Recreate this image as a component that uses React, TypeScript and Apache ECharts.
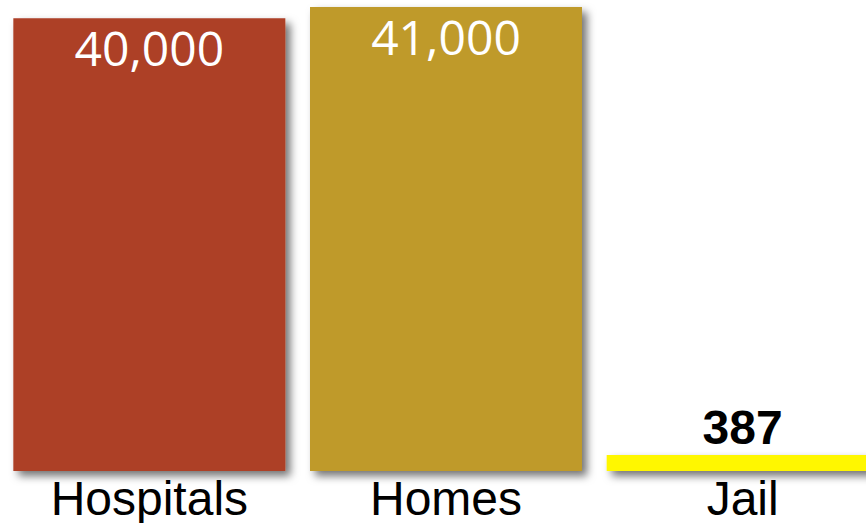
import React, { useEffect, useRef } from "react";
import * as echarts from "echarts";

const categories = ["Hospitals", "Homes", "Jail"];
const values = [40000, 41000, 387];
const barColors = ["#AD3F26", "#BF9A2A", "#FFF700"];
const valueLabels = ["40,000", "41,000", "387"];

export default function App() {
  const ref = useRef<HTMLDivElement>(null);
  useEffect(() => {
    if (!ref.current) return;
    const chart = echarts.init(ref.current, undefined, { renderer: "svg" });
    const data = values.map((v, i) => {
      const isSmall = i === 2;
      return {
        value: v,
        itemStyle: {
          color: barColors[i],
          shadowColor: "rgba(0,0,0,0.55)",
          shadowBlur: 8,
          shadowOffsetX: 5,
          shadowOffsetY: 5,
        },
        label: isSmall
          ? {
              show: true,
              position: "top",
              distance: 4,
              formatter: valueLabels[i],
              color: "#000",
              fontSize: 48,
              fontWeight: "bold",
              fontFamily: "Liberation Sans, Arial, sans-serif",
            }
          : {
              show: true,
              position: "insideTop",
              distance: 5,
              formatter: valueLabels[i],
              color: "#fff",
              fontSize: 48,
              fontFamily: "Open Sans, sans-serif",
            },
      };
    });
    chart.setOption({
      animation: false,
      grid: { left: 1, width: 890, top: 7, bottom: 52 },
      xAxis: {
        type: "category",
        data: categories,
        axisLine: { show: false },
        axisTick: { show: false },
        axisLabel: {
          color: "#000",
          fontSize: 48,
          fontFamily: "Liberation Sans, Arial, sans-serif",
          margin: 3,
          interval: 0,
        },
      },
      yAxis: {
        type: "value",
        min: 0,
        max: 41000,
        show: false,
        splitLine: { show: false },
      },
      series: [
        {
          type: "bar",
          data,
          barWidth: 272,
          barMinHeight: 16,
        },
      ],
    });
    return () => chart.dispose();
  }, []);
  return (
    <div
      style={{
        position: "absolute",
        left: 0,
        top: 0,
        width: 866,
        height: 523,
        overflow: "hidden",
      }}
    >
      <div ref={ref} style={{ width: 900, height: 523 }} />
    </div>
  );
}
